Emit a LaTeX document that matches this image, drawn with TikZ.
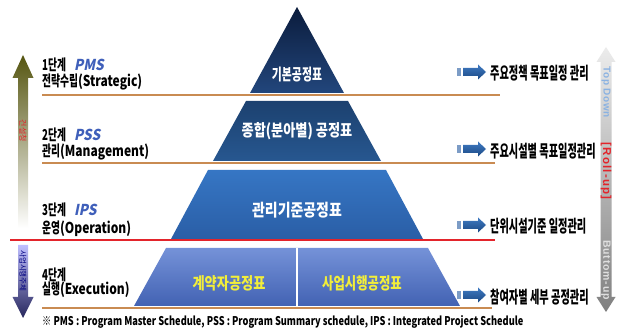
\documentclass[tikz,border=0pt]{standalone}
\usepackage{fontspec}
\setmainfont{Noto Sans CJK KR}
\newfontfamily\hg{Noto Sans CJK KR}
\newfontfamily\ar{Liberation Sans}
% size / horizontal stretch selectors
\newcommand\kf[2]{\hg\bfseries\fontsize{#1}{#1}\selectfont\addfontfeatures{FakeStretch=#2}}
\newcommand\kfs[2]{\hg\fontsize{#1}{#1}\selectfont\addfontfeatures{FakeStretch=#2,FakeSlant=0.2}}
\newcommand\arf[2]{\ar\bfseries\fontsize{#1}{#1}\selectfont\addfontfeatures{LetterSpace=#2}}

\definecolor{tanline}{HTML}{C98B52}
\definecolor{redline}{HTML}{E3242B}
\definecolor{triA}{HTML}{0B1C3C}
\definecolor{triB}{HTML}{22467C}
\definecolor{trpA}{HTML}{1C416F}
\definecolor{trpB}{HTML}{275790}
\definecolor{trqA}{HTML}{3676C4}
\definecolor{trqB}{HTML}{2A5EA6}
\definecolor{trrA}{HTML}{7592D8}
\definecolor{trrB}{HTML}{4262B3}
\definecolor{lblyellow}{HTML}{F2EE3A}
\definecolor{pmsblue}{HTML}{3F5FBA}
\definecolor{arrA}{HTML}{3F7AC2}
\definecolor{arrB}{HTML}{1B4984}
\definecolor{arrC}{HTML}{7C9CC6}
\definecolor{topdown}{HTML}{8AB2E2}

\tikzset{
  lvl/.style={anchor=west, inner sep=0pt, text=black},
  note/.style={anchor=west, inner sep=0pt, text=black},
  pyrtxt/.style={inner sep=0pt, text=white},
  sublbl/.style={inner sep=0pt, text=lblyellow},
  sepline/.style={tanline, line width=2pt},
  vtext/.style={inner sep=0pt, rotate=-90}
}

% small block arrow in front of a right-hand note
\newcommand\notearrow[1]{%
  \fill[arrC] (457,#1-4) rectangle (461,#1+4);
  \shade[top color=arrA, bottom color=arrB]
    (463,#1-4) -- (478,#1-4) -- (478,#1-7.5) -- (486,#1) -- (478,#1+7.5)
    -- (478,#1+4) -- (463,#1+4) -- cycle;}

\begin{document}
\begin{tikzpicture}[x=1pt,y=-1pt]
\useasboundingbox (0,0) rectangle (619,331);
\fill[white] (0,0) rectangle (619,331);

% ---- pyramid ----
\shade[top color=triA, bottom color=triB] (297,7) -- (344,93) -- (250,93) -- cycle;
\shade[top color=trpA, bottom color=trpB] (246,101) -- (348,101) -- (381,161) -- (213,161) -- cycle;
\shade[top color=trqA, bottom color=trqB] (208,170) -- (386,170) -- (423,239) -- (171,239) -- cycle;
\shade[top color=trrA, bottom color=trrB] (166,248) -- (428,248) -- (460,306) -- (134,306) -- cycle;
\draw[white, line width=1.3pt] (297,248) -- (297,306);

\node[pyrtxt] (p1) at (297,75) {\kf{16}{0.68}기본공정표};
\node[pyrtxt] (p2) at (297,131) {\kf{16.5}{0.8}종합(분아별) 공정표};
\node[pyrtxt] (p3) at (297,210) {\kf{17}{0.82}관리기준공정표};
\node[sublbl] (p4a) at (229,283) {\kf{16.5}{0.8}계약자공정표};
\node[sublbl] (p4b) at (362,283) {\kf{16.5}{0.75}사업시행공정표};

% ---- level separators ----
\draw[sepline] (42,95) -- (500,95);
\draw[sepline] (42,163) -- (495,163);
\draw[sepline] (42,308) -- (492,308);
\draw[redline, line width=2.5pt] (10,240) -- (495,240);

% ---- level labels ----
\node[lvl] (l1a) at (42,65) {\kf{15}{0.65}1단계\hspace{8pt}{\color{pmsblue}\kfs{15}{0.9}PMS}};
\node[lvl] (l1b) at (42,81.5) {\kf{15}{0.65}전략수립\kf{15}{0.8}(Strategic)};
\node[lvl] (l2a) at (42,135) {\kf{15}{0.65}2단계\hspace{8pt}{\color{pmsblue}\kfs{15}{0.9}PSS}};
\node[lvl] (l2b) at (42,152) {\kf{15}{0.65}관리\kf{15}{0.8}(Management)};
\node[lvl] (l3a) at (42,210) {\kf{15}{0.65}3단계\hspace{8pt}{\color{pmsblue}\kfs{15}{0.9}IPS}};
\node[lvl] (l3b) at (42,229) {\kf{15}{0.65}운영\kf{15}{0.8}(Operation)};
\node[lvl] (l4a) at (42,275) {\kf{15}{0.65}4단계};
\node[lvl] (l4b) at (42,290) {\kf{15}{0.65}실행\kf{15}{0.8}(Execution)};

% ---- notes on the right ----
\notearrow{72}
\notearrow{149}
\notearrow{225}
\notearrow{295}
\node[note] (r1) at (490,73) {\kf{17}{0.6}주요정책 목표일정 관리};
\node[note] (r2) at (490,151) {\kf{17}{0.6}주요시설별 목표일정관리};
\node[note] (r3) at (490,226) {\kf{17}{0.6}단위시설기준 일정관리};
\node[note] (r4) at (490,297) {\kf{17}{0.6}참여자별 세부 공정관리};

% ---- right-hand flow arrow ----
\shade[top color=gray!15, bottom color=gray]
  (606,47) -- (615.5,62) -- (611.5,62) -- (611.5,297) -- (615.5,297) -- (606,312)
  -- (596.5,297) -- (600.5,297) -- (600.5,62) -- (596.5,62) -- cycle;
\node[vtext, text=topdown] (td) at (606,92) {\arf{10}{6}Top Down};
\node[vtext, text=redline] (ru) at (606,171) {\arf{11.5}{10}[Roll-up]};
\node[vtext, text=gray!25] (bu) at (606,270) {\arf{10.5}{8}Buttom-up};

% ---- left-hand arrows ----
\shade[top color=black!55!olive!60!gray, middle color=olive!25!white, bottom color=white]
  (23,55) -- (33.5,78) -- (28,78) -- (28,228) -- (18,228) -- (18,78) -- (12.5,78) -- cycle;
\node[vtext, text=redline] (up) at (23,131) {\hg\fontsize{8}{8}\selectfont 건설청};
\shade[top color=blue!25!white, bottom color=blue!30!black!70!gray]
  (18,245) -- (28,245) -- (28,297) -- (33.5,297) -- (23,318) -- (12.5,297) -- (18,297) -- cycle;
\node[vtext, text=blue!50!black] (dn) at (23,271) {\hg\fontsize{7.5}{7.5}\selectfont 사업시행주체};

% ---- footnote ----
\node[note] (fn) at (42,322) {\kf{12}{0.77}※ PMS : Program Master Schedule, PSS : Program Summary schedule, IPS : Integrated Project Schedule};
\end{tikzpicture}
\end{document}
